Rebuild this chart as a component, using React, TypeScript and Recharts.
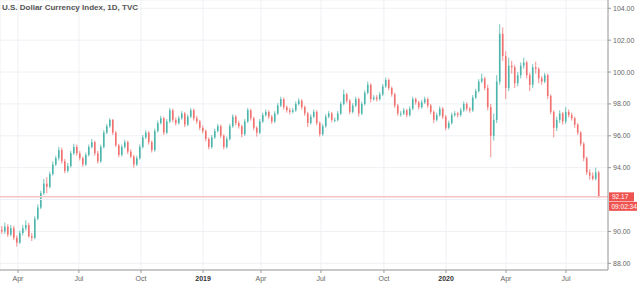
import React from 'react';
import { ComposedChart, Bar, XAxis, YAxis, CartesianGrid, ReferenceLine } from 'recharts';

// U.S. Dollar Currency Index (DXY), TVC – one candle per ~3 sessions, Feb 2018 .. Aug 2020
const opens = [
  90.1, 90.0, 90.3, 89.8, 90.2, 89.6, 89.3, 89.9, 90.2, 90.4,
  89.7, 89.6, 90.8, 91.5, 92.4, 93.0, 92.8, 93.6, 94.2, 94.6,
  95.1, 94.4, 93.8, 94.1, 94.9, 95.3, 94.9, 94.6, 94.2, 94.8,
  95.3, 95.6, 94.9, 94.4, 95.3, 96.2, 96.6, 97.0, 96.2, 95.4,
  94.8, 95.3, 95.6, 95.0, 94.7, 94.2, 94.6, 95.3, 95.9, 96.2,
  95.6, 95.1, 96.3, 96.8, 97.1, 96.2, 96.9, 97.6, 97.0, 96.8,
  97.1, 97.4, 96.7, 97.2, 97.6, 97.1, 96.9, 96.5, 96.3, 95.8,
  95.3, 95.9, 96.3, 96.6, 96.0, 95.3, 95.8, 96.6, 97.2, 96.8,
  96.6, 96.1, 96.9, 97.6, 97.1, 96.5, 96.2, 96.9, 97.3, 97.5,
  97.2, 96.9, 97.4, 97.9, 98.3, 97.8, 97.6, 97.5, 97.6, 98.0,
  98.2, 97.8, 97.4, 96.8, 97.2, 97.5, 96.8, 96.1, 96.6, 97.2,
  97.4, 97.0, 97.0, 97.4, 98.0, 98.6, 98.2, 97.5, 97.9, 98.3,
  97.4, 98.0, 98.7, 99.2, 98.3, 98.4, 98.3, 98.6, 99.1, 99.5,
  99.0, 98.6, 97.9, 97.4, 97.4, 97.6, 97.3, 97.7, 98.3, 98.1,
  97.8, 98.1, 98.3, 97.9, 97.5, 97.0, 97.3, 97.7, 97.2, 96.5,
  96.8, 97.3, 97.4, 97.3, 97.6, 98.0, 97.7, 97.6, 98.4, 98.8,
  99.4, 99.6, 99.0, 97.8, 96.0, 97.0, 99.4, 102.4, 101.0, 99.0,
  100.4, 100.3, 99.3, 99.8, 100.4, 100.6, 99.8, 99.2, 100.3, 100.2,
  99.6, 99.4, 99.8, 98.5, 97.5, 96.5, 97.0, 97.4, 96.9, 97.5,
  97.3, 97.1, 96.7, 96.2, 95.5, 94.6, 93.7, 93.5, 93.3, 93.7,
];

const highs = [
  90.35, 90.55, 90.45, 90.4, 90.35, 89.75, 90.05, 90.4, 90.7, 90.55,
  89.9, 90.95, 91.7, 92.55, 93.3, 93.4, 93.75, 94.4, 94.75, 95.3,
  95.25, 94.55, 94.3, 95.05, 95.5, 95.45, 95.05, 94.7, 94.95, 95.45,
  95.8, 95.7, 95.05, 95.45, 96.35, 96.75, 97.1, 97.05, 96.3, 95.5,
  95.45, 95.75, 95.7, 95.15, 94.8, 94.75, 95.45, 96.05, 96.35, 96.3,
  95.7, 96.45, 96.95, 97.25, 97.2, 97.05, 97.75, 97.7, 97.15, 97.25,
  97.55, 97.5, 97.35, 97.75, 97.7, 97.25, 97.0, 96.65, 96.4, 95.9,
  96.05, 96.45, 96.75, 96.7, 96.1, 95.95, 96.75, 97.35, 97.3, 96.95,
  96.7, 97.05, 97.75, 97.7, 97.2, 96.6, 97.05, 97.45, 97.65, 97.6,
  97.3, 97.55, 98.05, 98.45, 98.4, 97.9, 97.75, 97.75, 98.15, 98.35,
  98.3, 97.9, 97.5, 97.35, 97.65, 97.6, 96.9, 96.75, 97.35, 97.55,
  97.5, 97.15, 97.55, 98.15, 98.9, 98.7, 98.3, 98.05, 98.45, 98.4,
  98.15, 98.85, 99.4, 99.3, 98.55, 98.55, 98.75, 99.25, 99.65, 99.6,
  99.1, 98.7, 98.0, 97.55, 97.75, 97.7, 97.85, 98.45, 98.4, 98.2,
  98.25, 98.45, 98.4, 98.0, 97.6, 97.45, 97.85, 97.8, 97.3, 96.95,
  97.45, 97.55, 97.5, 97.75, 98.15, 98.1, 97.8, 98.55, 98.95, 99.55,
  99.9, 99.7, 99.2, 98.0, 97.4, 99.8, 103.0, 102.8, 101.3, 100.9,
  100.7, 100.45, 100.0, 100.6, 100.9, 100.7, 99.95, 100.5, 100.65, 100.3,
  99.75, 99.95, 99.9, 98.6, 97.6, 97.2, 97.6, 97.5, 97.8, 97.65,
  97.45, 97.2, 96.8, 96.3, 95.6, 94.7, 93.9, 93.7, 94.0, 93.8,
];

const lows = [
  89.85, 89.85, 89.65, 89.7, 89.45, 89.05, 89.2, 89.75, 90.05, 89.6,
  89.4, 89.5, 90.7, 91.4, 92.3, 92.4, 92.7, 93.5, 94.1, 94.45,
  94.25, 93.65, 93.7, 94.0, 94.8, 94.75, 94.45, 94.05, 94.1, 94.7,
  95.2, 94.75, 94.25, 94.3, 95.2, 96.1, 96.5, 96.05, 95.3, 94.65,
  94.7, 95.2, 94.85, 94.6, 94.0, 94.1, 94.5, 95.2, 95.8, 95.45,
  94.95, 95.0, 96.2, 96.7, 96.05, 96.1, 96.8, 96.85, 96.65, 96.7,
  97.0, 96.55, 96.6, 97.1, 96.95, 96.75, 96.35, 96.15, 95.65, 95.15,
  95.2, 95.8, 96.2, 95.85, 95.15, 95.2, 95.7, 96.5, 96.65, 96.45,
  95.9, 96.0, 96.8, 96.95, 96.35, 95.95, 96.1, 96.8, 97.2, 97.05,
  96.75, 96.8, 97.3, 97.8, 97.65, 97.45, 97.35, 97.4, 97.5, 97.9,
  97.65, 97.25, 96.55, 96.7, 97.1, 96.65, 95.95, 96.0, 96.5, 97.1,
  96.85, 96.85, 96.9, 97.3, 97.9, 98.05, 97.35, 97.4, 97.8, 97.2,
  97.3, 97.9, 98.6, 98.1, 98.2, 98.15, 98.2, 98.5, 99.0, 98.85,
  98.45, 97.75, 97.25, 97.2, 97.3, 97.15, 97.2, 97.6, 97.95, 97.65,
  97.7, 98.0, 97.75, 97.35, 96.8, 96.9, 97.2, 97.05, 96.35, 96.4,
  96.7, 97.2, 97.15, 97.2, 97.5, 97.55, 97.45, 97.5, 98.3, 98.7,
  99.3, 98.85, 97.6, 94.65, 95.7, 96.8, 99.2, 100.7, 98.3, 98.8,
  99.9, 99.0, 99.1, 99.6, 100.2, 99.6, 98.8, 99.0, 99.9, 99.3,
  99.2, 99.3, 98.3, 97.35, 95.9, 96.3, 96.8, 96.7, 96.75, 97.15,
  96.95, 96.5, 96.05, 95.35, 94.4, 93.55, 93.25, 93.2, 93.2, 92.1,
];

const closes = [
  90.0, 90.3, 89.8, 90.2, 89.6, 89.3, 89.9, 90.2, 90.4, 89.7,
  89.6, 90.8, 91.5, 92.4, 93.0, 92.8, 93.6, 94.2, 94.6, 95.1,
  94.4, 93.8, 94.1, 94.9, 95.3, 94.9, 94.6, 94.2, 94.8, 95.3,
  95.6, 94.9, 94.4, 95.3, 96.2, 96.6, 97.0, 96.2, 95.4, 94.8,
  95.3, 95.6, 95.0, 94.7, 94.2, 94.6, 95.3, 95.9, 96.2, 95.6,
  95.1, 96.3, 96.8, 97.1, 96.2, 96.9, 97.6, 97.0, 96.8, 97.1,
  97.4, 96.7, 97.2, 97.6, 97.1, 96.9, 96.5, 96.3, 95.8, 95.3,
  95.9, 96.3, 96.6, 96.0, 95.3, 95.8, 96.6, 97.2, 96.8, 96.6,
  96.1, 96.9, 97.6, 97.1, 96.5, 96.2, 96.9, 97.3, 97.5, 97.2,
  96.9, 97.4, 97.9, 98.3, 97.8, 97.6, 97.5, 97.6, 98.0, 98.2,
  97.8, 97.4, 96.8, 97.2, 97.5, 96.8, 96.1, 96.6, 97.2, 97.4,
  97.0, 97.0, 97.4, 98.0, 98.6, 98.2, 97.5, 97.9, 98.3, 97.4,
  98.0, 98.7, 99.2, 98.3, 98.4, 98.3, 98.6, 99.1, 99.5, 99.0,
  98.6, 97.9, 97.4, 97.4, 97.6, 97.3, 97.7, 98.3, 98.1, 97.8,
  98.1, 98.3, 97.9, 97.5, 97.0, 97.3, 97.7, 97.2, 96.5, 96.8,
  97.3, 97.4, 97.3, 97.6, 98.0, 97.7, 97.6, 98.4, 98.8, 99.4,
  99.6, 99.0, 97.8, 96.0, 97.0, 99.4, 102.4, 101.0, 99.0, 100.4,
  100.3, 99.3, 99.8, 100.4, 100.6, 99.8, 99.2, 100.3, 100.2, 99.6,
  99.4, 99.8, 98.5, 97.5, 96.5, 97.0, 97.4, 96.9, 97.5, 97.3,
  97.1, 96.7, 96.2, 95.5, 94.6, 93.7, 93.5, 93.3, 93.7, 92.17,
];

// time axis labels, placed at the candle index where each period begins
const timeTicks = [5.5, 25.8, 46.5, 67.2, 86.5, 106.5, 127.5, 148.2, 168.2, 188.2];
const timeLabels = ['Apr', 'Jul', 'Oct', '2019', 'Apr', 'Jul', 'Oct', '2020', 'Apr', 'Jul'];
// 92.00 sits under the last-price tag, so it only gets a grid line
const priceTicks = [88, 90, 94, 96, 98, 100, 102, 104];
const hiddenPriceTick = 92;

const lastPrice = 92.17;
const countdown = '09:02:34';
const title = 'U.S. Dollar Currency Index, 1D, TVC';

const UP = '#4db6ac';
const DOWN = '#f07170';
const LABEL_RED = '#ef5350';
const GRID = '#eef0f4';
const FONT = '"Liberation Sans", Arial, sans-serif';

const data = closes.map((close, i) => ({
  i,
  open: opens[i],
  high: highs[i],
  low: lows[i],
  close,
  range: [lows[i], highs[i]],
}));

const Candle = (props: any) => {
  const { x, y, width, height, payload } = props;
  const { open, close, high, low } = payload;
  const color = close >= open ? UP : DOWN;
  const ratio = height / (high - low);
  const top = y + (high - Math.max(open, close)) * ratio;
  const bodyH = Math.max(1, Math.abs(open - close) * ratio);
  const cx = x + width / 2;
  return (
    <g>
      <line x1={cx} x2={cx} y1={y} y2={y + height} stroke={color} strokeWidth={0.8} />
      <rect x={x} y={top} width={width} height={bodyH} fill={color} />
    </g>
  );
};

const TimeTick = (props: any) => {
  const { x, y, payload } = props;
  const label = timeLabels[timeTicks.indexOf(payload.value)];
  const isYear = /^\d{4}$/.test(label);
  return (
    <text x={x} y={y + 6} textAnchor="middle" fontSize={7} fontFamily={FONT} fill={isYear ? '#333' : '#666'} fontWeight={isYear ? 700 : 400}>
      {label}
    </text>
  );
};

// last-price tag and bar countdown on the price scale
const PriceLabel = (props: any) => {
  const { viewBox } = props;
  const x0 = viewBox.x + viewBox.width + 1;
  const yc = viewBox.y;
  return (
    <g fontFamily={FONT} fontSize={6.5}>
      <rect x={x0} y={yc - 4.5} width={25} height={9} fill={LABEL_RED} />
      <text x={x0 + 3} y={yc + 2.2} fill="#fff">{lastPrice.toFixed(2)}</text>
      <rect x={x0} y={yc + 5} width={28} height={9} fill={LABEL_RED} />
      <text x={x0 + 2.5} y={yc + 11.8} fill="#fff">{countdown}</text>
    </g>
  );
};

const App = () => {
  return (
    <div style={{ position: 'fixed', left: 0, top: 0, width: 640, height: 283, background: '#fff' }}>
      <ComposedChart data={data} width={640} height={283} margin={{ top: 0, right: 0, bottom: 0, left: 0 }}>
        <CartesianGrid stroke={GRID} />
        <XAxis
          dataKey="i"
          type="number"
          domain={[-0.5, 202.2]}
          ticks={timeTicks}
          tick={<TimeTick />}
          tickSize={3}
          height={13}
          stroke="#9a9a9a"
          interval={0}
          allowDataOverflow
        />
        <YAxis
          orientation="right"
          type="number"
          domain={[87.58, 104.52]}
          ticks={priceTicks}
          tickFormatter={(v: number) => v.toFixed(2)}
          tick={{ fontSize: 7, fill: '#666', fontFamily: FONT }}
          tickSize={3}
          tickMargin={2}
          width={32}
          stroke="#9a9a9a"
          interval={0}
          allowDataOverflow
        />
        <ReferenceLine y={hiddenPriceTick} stroke={GRID} />
        <ReferenceLine y={lastPrice} stroke="#f6c4c4" strokeWidth={1.5} label={<PriceLabel />} />
        <Bar dataKey="range" barSize={1.6} shape={<Candle />} isAnimationActive={false} />
      </ComposedChart>
      <div style={{ position: 'absolute', left: 2, top: 3, fontFamily: FONT, fontSize: 8, fontWeight: 700, color: '#555', whiteSpace: 'nowrap' }}>
        {title}
      </div>
    </div>
  );
};

export default App;
